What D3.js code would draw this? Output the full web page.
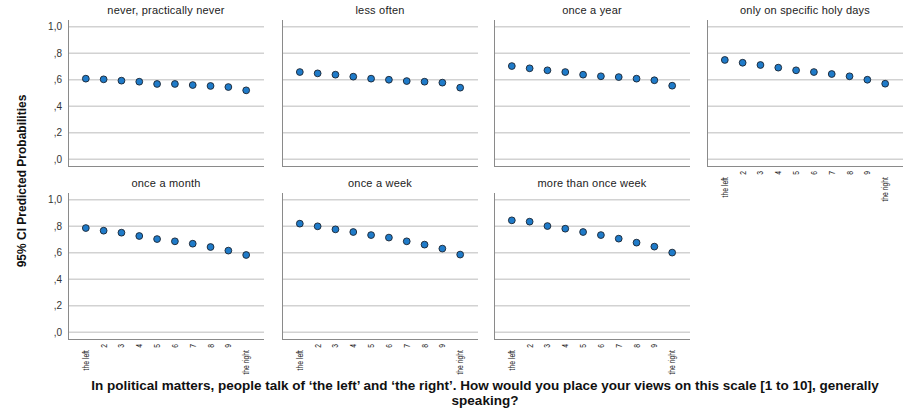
<!DOCTYPE html>
<html>
<head>
<meta charset="utf-8">
<script src="https://cdn.jsdelivr.net/npm/d3@7"></script>
<style>
  html, body { margin: 0; padding: 0; background: #fff; }
  svg { display: block; font-family: "Liberation Sans", Arial, sans-serif; }
</style>
</head>
<body>
<svg id="chart" width="911" height="416"></svg>
<script>
// Church attendance groups (one panel each)
const panelTitles = [
  "never, practically never",
  "less often",
  "once a year",
  "only on specific holy days",
  "once a month",
  "once a week",
  "more than once week"
];

// Left-right self placement scale
const scalePoints = [1, 2, 3, 4, 5, 6, 7, 8, 9, 10];
const scaleLabels = ["the left", "2", "3", "4", "5", "6", "7", "8", "9", "the right"];

// Predicted probabilities per group
const neverVals      = [0.608, 0.603, 0.593, 0.585, 0.568, 0.568, 0.560, 0.553, 0.545, 0.520];
const lessOftenVals  = [0.658, 0.648, 0.638, 0.623, 0.608, 0.600, 0.590, 0.585, 0.578, 0.540];
const onceYearVals   = [0.703, 0.686, 0.671, 0.658, 0.638, 0.626, 0.620, 0.608, 0.596, 0.555];
const holyDaysVals   = [0.749, 0.728, 0.711, 0.691, 0.671, 0.658, 0.643, 0.626, 0.600, 0.570];
const onceMonthVals  = [0.786, 0.766, 0.751, 0.726, 0.703, 0.686, 0.668, 0.643, 0.616, 0.583];
const onceWeekVals   = [0.819, 0.799, 0.776, 0.756, 0.733, 0.714, 0.686, 0.661, 0.631, 0.586];
const moreWeekVals   = [0.844, 0.834, 0.801, 0.781, 0.756, 0.733, 0.706, 0.676, 0.646, 0.601];

const seriesList = [neverVals, lessOftenVals, onceYearVals, holyDaysVals,
                    onceMonthVals, onceWeekVals, moreWeekVals];

// Y axis ticks
const yTickValues = [0, 0.2, 0.4, 0.6, 0.8, 1.0];
const yTickLabels = [",0", ",2", ",4", ",6", ",8", "1,0"];

const yTitle = "95% CI Predicted Probabilities";
const xTitleLines = [
  "In political matters, people talk of \u2018the left\u2019 and \u2018the right\u2019. How would you place your views on this scale [1 to 10], generally",
  "speaking?"
];

// Layout of the 4 x 2 grid of panels
const colLeft = [68, 282, 494, 707];
const rowTop = [20, 193];
const panelW = 196, panelH = 146;

const svg = d3.select("#chart");

const x = d3.scaleLinear().domain([0, 11]).range([0, panelW]);
const y = d3.scaleLinear().domain([-0.05, 1.05]).range([panelH, 0]);

seriesList.forEach((vals, i) => {
  const col = i % 4, row = Math.floor(i / 4);
  const g = svg.append("g").attr("transform", `translate(${colLeft[col]},${rowTop[row]})`);

  // horizontal gridlines
  g.selectAll("line.grid").data(yTickValues).join("line")
    .attr("class", "grid")
    .attr("x1", 0).attr("x2", panelW)
    .attr("y1", d => y(d)).attr("y2", d => y(d))
    .attr("stroke", "#d2d2d2").attr("stroke-width", 1.5);

  // axis frame: left and bottom
  g.append("line").attr("x1", 0.5).attr("x2", 0.5).attr("y1", 0).attr("y2", panelH)
    .attr("stroke", "#8a8a8a").attr("stroke-width", 1);
  g.append("line").attr("x1", 0).attr("x2", panelW).attr("y1", panelH + 0.5).attr("y2", panelH + 0.5)
    .attr("stroke", "#8a8a8a").attr("stroke-width", 1);

  // panel title
  g.append("text")
    .attr("x", panelW / 2).attr("y", -6)
    .attr("text-anchor", "middle")
    .attr("font-size", "11px").attr("fill", "#222")
    .attr("letter-spacing", "0.2px")
    .text(panelTitles[i]);

  // y tick labels in the first column only
  if (col === 0) {
    g.selectAll("text.ytick").data(yTickValues).join("text")
      .attr("class", "ytick")
      .attr("x", -6).attr("y", d => y(d)).attr("dy", "0.35em")
      .attr("text-anchor", "end")
      .attr("font-size", "10px").attr("fill", "#333")
      .text((d, k) => yTickLabels[k]);
  }

  // x tick labels on panels with nothing below them (condensed, rotated)
  const showX = row === 1 || i === 3;
  if (showX) {
    g.selectAll("text.xtick").data(scalePoints).join("text")
      .attr("class", "xtick")
      .attr("transform", (d, k) => {
        const off = (k === 0 || k === scalePoints.length - 1) ? 11 : 5;
        return `translate(${x(d) + 3},${panelH + off}) rotate(-90) scale(0.8,1)`;
      })
      .attr("text-anchor", "end")
      .attr("font-size", "8.5px").attr("fill", "#222")
      .text((d, k) => scaleLabels[k]);
  }

  // points
  g.selectAll("circle").data(vals).join("circle")
    .attr("cx", (d, k) => x(scalePoints[k]))
    .attr("cy", d => y(d))
    .attr("r", 3.4)
    .attr("fill", "#1f7bc9")
    .attr("stroke", "#1b2430").attr("stroke-width", 0.9);
});

// y axis title
svg.append("text")
  .attr("transform", "translate(26,181) rotate(-90)")
  .attr("text-anchor", "middle")
  .attr("font-size", "12px").attr("font-weight", "bold").attr("fill", "#111")
  .text(yTitle);

// x axis title (two lines)
svg.selectAll("text.xtitle").data(xTitleLines).join("text")
  .attr("class", "xtitle")
  .attr("x", 485).attr("y", (d, k) => 390 + k * 15)
  .attr("text-anchor", "middle")
  .attr("font-size", "13.5px").attr("font-weight", "bold").attr("fill", "#111")
  .text(d => d);
</script>
</body>
</html>
